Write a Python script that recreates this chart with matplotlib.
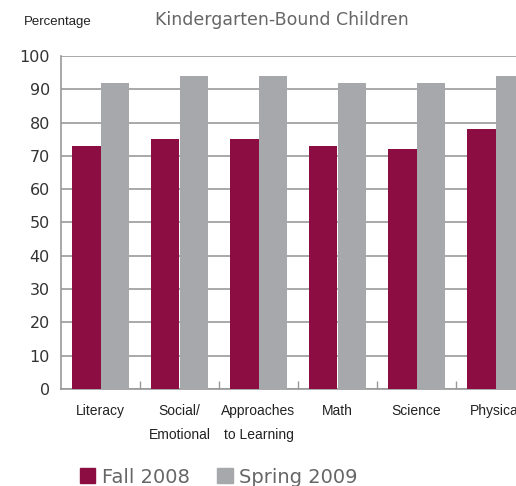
import numpy as np
import matplotlib.pyplot as plt
from matplotlib.patches import Patch

categories = ['Literacy', 'Social/\nEmotional', 'Approaches\nto Learning', 'Math', 'Science', 'Physical']
fall_2008 = [73, 75, 75, 73, 72, 78]
spring_2009 = [92, 94, 94, 92, 92, 94]
y_ticks = list(range(0, 101, 10))

fall_color = '#8B0D42'
spring_color = '#A7A8AC'
axis_color = '#999999'
narrow = ['Liberation Sans Narrow', 'Liberation Sans', 'DejaVu Sans']

fig = plt.figure(figsize=(5.16, 4.86), dpi=100)
# the plot runs past the right edge of the picture, as in the original
ax = fig.add_axes([61 / 516, 97 / 486, 474 / 516, 333 / 486])

x = np.arange(len(categories))
w = 0.355
ax.bar(x - w / 2, fall_2008, w, color=fall_color, zorder=3)
ax.bar(x + w / 2, spring_2009, w, color=spring_color, zorder=3)

ax.set_xlim(-0.5, len(categories) - 0.5)
ax.set_ylim(0, 100)
ax.set_yticks(y_ticks)
ax.yaxis.grid(True, color=axis_color, linewidth=1.2, zorder=0)
ax.tick_params(axis='y', length=0, pad=8, labelsize=11.5, labelcolor='#333333')

ax.set_xticks(x)
ax.set_xticklabels(categories, fontfamily=narrow, fontsize=10, color='#222222', linespacing=1.85)
ax.tick_params(axis='x', which='major', length=0, pad=11)
ax.set_xticks(np.arange(len(categories) - 1) + 0.5, minor=True)
ax.tick_params(axis='x', which='minor', direction='in', length=6, color=axis_color, width=1)

for side in ['top', 'right']:
    ax.spines[side].set_visible(False)
for side in ['left', 'bottom']:
    ax.spines[side].set_color(axis_color)
    ax.spines[side].set_linewidth(1.2)

fig.text(282 / 516, 1 - 20 / 486, 'Kindergarten-Bound Children', ha='center', va='center',
         fontsize=12.5, color='#666666')
fig.text(24 / 516, 1 - 22 / 486, 'Percentage', ha='left', va='center',
         fontfamily=narrow, fontsize=9.5, color='#222222')

handles = [Patch(color=fall_color, label='Fall 2008'), Patch(color=spring_color, label='Spring 2009')]
fig.legend(handles=handles, loc='center left', bbox_to_anchor=(62 / 516, 1 - 477 / 486), ncol=2,
           frameon=False, fontsize=14, labelcolor='#666666', handlelength=0.8, handleheight=0.8,
           handletextpad=0.35, columnspacing=1.4)

fig.savefig('out.png', dpi=100)
